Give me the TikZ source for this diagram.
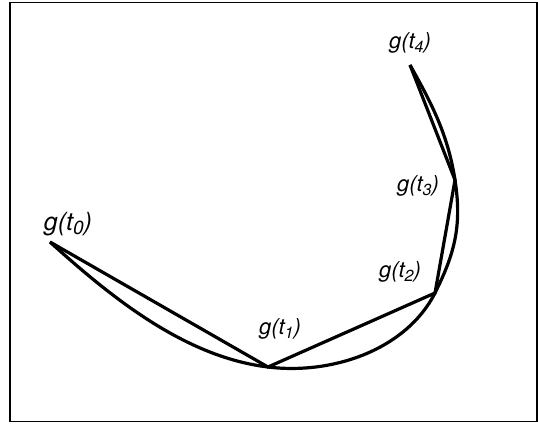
\documentclass[tikz,border=0pt]{standalone}
\usepackage{fontspec}
\setmainfont{TeX Gyre Heros}
\usepackage{tikz}
\usetikzlibrary{calc,positioning}
\newcommand{\lowidx}[2][16]{\raisebox{-0.35ex}{\fontsize{#1}{#1}\selectfont #2}}

\begin{document}
\begin{tikzpicture}[
        x=1pt, y=-1pt,
        frame/.style={line width=1.5pt, black},
        chord/.style={line width=3.2pt, black},
        curve/.style={line width=3.2pt, black},
        lbl/.style={font=\itshape\fontsize{22}{26}\selectfont, inner sep=0pt},
        biglbl/.style={font=\itshape\fontsize{25}{30}\selectfont, inner sep=0pt}
    ]
        \useasboundingbox (0,0) rectangle (538,423);
        \draw[frame] (10,2.5) rectangle (537,421.5);

        % points on the curve
        \coordinate (g0) at (50,242);
        \coordinate (g1) at (268,367);
        \coordinate (g2) at (435,293);
        \coordinate (g3) at (455,180);
        \coordinate (g4) at (410,65);

        \draw[curve] (g0) .. controls +(62,56) and +(-83,-10) .. (g1)
                          .. controls +(64,8) and +(-29,57) .. (g2)
                          .. controls +(20,-40) and +(7,45) .. (g3)
                          .. controls +(-7,-45) and +(22,39) .. (g4);
        \draw[chord] (g0) -- (g1) -- (g2) -- (g3) -- (g4);

        \node[biglbl] (lbl0) at (g0) [xshift=18pt, yshift=18pt] {g(t\lowidx[19]{0})};
        \node[lbl] (lbl1) at (g1) [xshift=12pt, yshift=38pt] {g(t\lowidx{1})};
        \node[lbl] (lbl2) at (g2) [xshift=-35pt, yshift=21pt] {g(t\lowidx{2})};
        \node[lbl] (lbl3) at (g3) [xshift=-37pt, yshift=-6pt] {g(t\lowidx{3})};
        \node[lbl] (lbl4) at (g4) [xshift=0pt, yshift=22pt] {g(t\lowidx{4})};
    \end{tikzpicture}
\end{document}
